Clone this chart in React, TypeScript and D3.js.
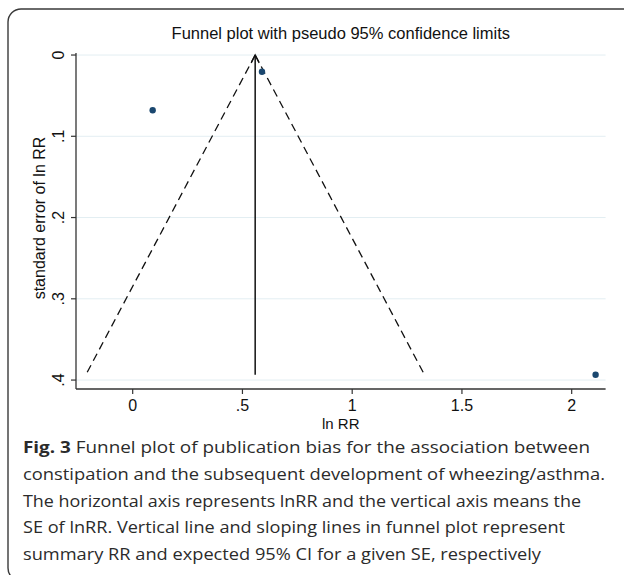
import React from "react";
import * as d3 from "d3";

const studyLnRR = [0.091, 0.589, 2.109];
const studySE = [0.068, 0.0205, 0.3935];
const summaryLnRR = 0.558;
const z95 = 1.96;
const xTicks = [0, 0.5, 1, 1.5, 2];
const xTickLabels = ["0", ".5", "1", "1.5", "2"];
const yTicks = [0, 0.1, 0.2, 0.3, 0.4];
const yTickLabels = ["0", ".1", ".2", ".3", ".4"];
const title = "Funnel plot with pseudo 95% confidence limits";
const xTitle = "ln RR";
const yTitle = "standard error of ln RR";
const captionLines = [
  "constipation and the subsequent development of wheezing/asthma.",
  "The horizontal axis represents lnRR and the vertical axis means the",
  "SE of lnRR. Vertical line and sloping lines in funnel plot represent",
  "summary RR and expected 95% CI for a given SE, respectively",
];
const captionLineEnds = [605, 581, 565, 541];

export default function App() {
  const W = 624, H = 575;
  const left = 76, right = 605.6, top = 53, bottom = 389;
  const x = d3.scaleLinear().domain([-0.2583, 2.1545]).range([left, right]);
  const y = d3.scaleLinear().domain([-0.0025, 0.411]).range([top, bottom]);
  const maxSE = d3.max(studySE) as number;
  const line = d3.line<[number, number]>().x(d => x(d[0])).y(d => y(d[1]));
  const leftLimit: [number, number][] = [[summaryLnRR, 0], [summaryLnRR - z95 * maxSE, maxSE]];
  const rightLimit: [number, number][] = [[summaryLnRR, 0], [summaryLnRR + z95 * maxSE, maxSE]];
  const ax = x(summaryLnRR), ay = y(0);
  const chartFont = "'Liberation Sans', Arial, sans-serif";
  const capFont = "'Open Sans', 'Noto Sans', sans-serif";
  const axisColor = "#333";
  const capY = 453;
  return (
    <svg width={W} height={H} style={{ position: "absolute", left: 0, top: 0, background: "#fff" }}>
      <rect x={8} y={9} width={640} height={572} rx={13} fill="none" stroke="#3a3a3a" strokeWidth={1.4} />
      {yTicks.map((t, i) => (
        <line key={"g" + i} x1={left} x2={right} y1={y(t)} y2={y(t)} stroke="#e3eef2" strokeWidth={1} />
      ))}
      <path d={line(leftLimit) || ""} fill="none" stroke="#111" strokeWidth={1.3} strokeDasharray="8,5" />
      <path d={line(rightLimit) || ""} fill="none" stroke="#111" strokeWidth={1.3} strokeDasharray="8,5" />
      <line x1={ax} x2={ax} y1={y(maxSE)} y2={ay} stroke="#111" strokeWidth={1.5} />
      <path d={`M${ax - 4},${ay + 8} L${ax},${ay} L${ax + 4},${ay + 8}`} fill="none" stroke="#111" strokeWidth={1.3} />
      {studyLnRR.map((v, i) => (
        <circle key={"p" + i} cx={x(v)} cy={y(studySE[i])} r={3.2} fill="#1a476f" />
      ))}
      <line x1={left} x2={left} y1={top} y2={bottom} stroke={axisColor} strokeWidth={1.3} />
      <line x1={left} x2={right} y1={bottom} y2={bottom} stroke={axisColor} strokeWidth={1.3} />
      {yTicks.map((t, i) => (
        <g key={"yt" + i}>
          <line x1={left - 5} x2={left} y1={y(t)} y2={y(t)} stroke={axisColor} strokeWidth={1.2} />
          <text transform={`translate(63.5,${y(t)}) rotate(-90)`} textAnchor="middle" fontFamily={chartFont} fontSize={16} fill="#111">{yTickLabels[i]}</text>
        </g>
      ))}
      {xTicks.map((t, i) => (
        <g key={"xt" + i}>
          <line x1={x(t)} x2={x(t)} y1={bottom} y2={bottom + 5} stroke={axisColor} strokeWidth={1.2} />
          <text x={x(t)} y={411} textAnchor="middle" fontFamily={chartFont} fontSize={16} fill="#111">{xTickLabels[i]}</text>
        </g>
      ))}
      <text x={(left + right) / 2} y={428.5} textAnchor="middle" fontFamily={chartFont} fontSize={15} fill="#111">{xTitle}</text>
      <text transform={`translate(45,218) rotate(-90)`} textAnchor="middle" fontFamily={chartFont} fontSize={16} fill="#111">{yTitle}</text>
      <text x={(left + right) / 2} y={38.5} textAnchor="middle" fontFamily={chartFont} fontSize={16.5} fill="#111">{title}</text>
      <text x={23} y={capY} fontFamily={capFont} fontSize={16.5} fill="#2b2b2b" textLength={590 - 23} lengthAdjust="spacingAndGlyphs">
        <tspan fontWeight="bold">Fig. 3</tspan>
        <tspan>{"  Funnel plot of publication bias for the association between"}</tspan>
      </text>
      {captionLines.map((l, i) => (
        <text key={"c" + i} x={23} y={capY + 26.8 * (i + 1)} fontFamily={capFont} fontSize={16.5} fill="#2b2b2b" textLength={captionLineEnds[i] - 23} lengthAdjust="spacingAndGlyphs">{l}</text>
      ))}
    </svg>
  );
}
